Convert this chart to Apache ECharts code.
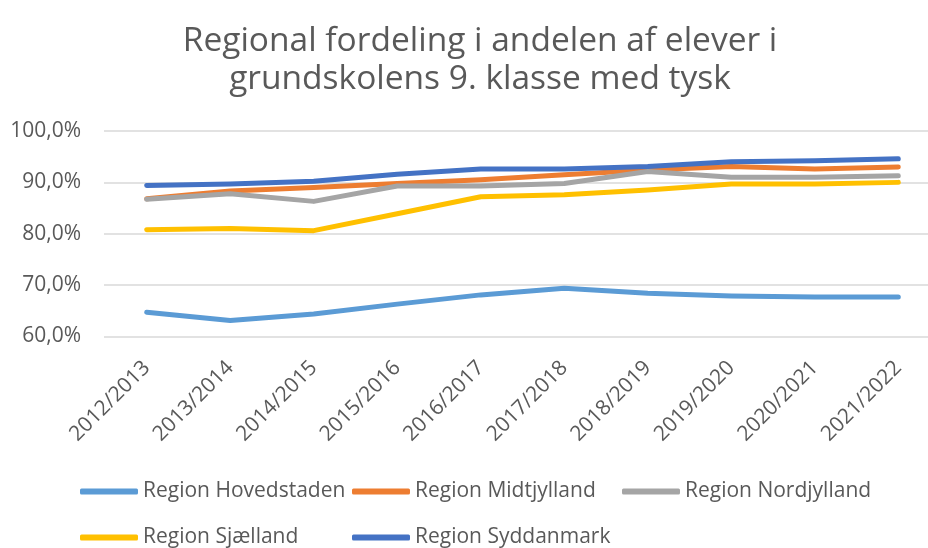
<!DOCTYPE html>
<html><head><meta charset="utf-8">
<script src="https://cdn.jsdelivr.net/npm/echarts@6/dist/echarts.min.js"></script>
<style>html,body{margin:0;padding:0;background:#fff}#c{width:928px;height:548px}</style>
</head><body><div id="c"></div>
<script>
const categories = ['2012/2013','2013/2014','2014/2015','2015/2016','2016/2017','2017/2018','2018/2019','2019/2020','2020/2021','2021/2022'];
const hovedstaden = [64.7, 63.1, 64.4, 66.3, 68.1, 69.4, 68.4, 67.9, 67.7, 67.7];
const midtjylland = [86.8, 88.3, 89.0, 89.8, 90.5, 91.5, 92.4, 93.1, 92.6, 93.0];
const nordjylland = [86.7, 87.8, 86.3, 89.3, 89.3, 89.8, 92.1, 91.0, 91.0, 91.3];
const sjaelland = [80.8, 81.0, 80.6, 83.9, 87.2, 87.6, 88.5, 89.7, 89.7, 90.0];
const syddanmark = [89.4, 89.7, 90.2, 91.6, 92.6, 92.6, 93.1, 94.0, 94.2, 94.6];
const seriesNames = ['Region Hovedstaden','Region Midtjylland','Region Nordjylland','Region Sjælland','Region Syddanmark'];
const colors = ['#5B9BD5','#ED7D31','#A5A5A5','#FFC000','#4472C4'];
const yTicks = {min: 60, max: 100, interval: 10};

const font = 'Open Sans';
const txt = '#595959';
const data = [hovedstaden, midtjylland, nordjylland, sjaelland, syddanmark];
const legendPos = [[75, 476], [347, 476], [617, 476], [75, 522], [347, 522]];
const legends = seriesNames.map((n, i) => ({left: legendPos[i][0], top: legendPos[i][1], data: [n],
  itemWidth: 58, itemHeight: 6, icon: 'roundRect',
  textStyle: {fontFamily: font, fontSize: 21, color: txt}}));
const chart = echarts.init(document.getElementById('c'));
chart.setOption({
  animation: false,
  color: colors,
  title: {text: 'Regional fordeling i andelen af elever i\ngrundskolens 9. klasse med tysk', left: 475, top: 17,
    textAlign: 'center',
    textStyle: {fontFamily: font, fontSize: 33.5, fontWeight: 'normal', color: txt, lineHeight: 38}},
  legend: legends,
  grid: [
    {left: 104, right: 0, top: 131, height: 205.5},
    {left: 146.7, width: 751.6, top: 131, height: 205.5}
  ],
  xAxis: [
    {gridIndex: 0, type: 'category', data: categories, show: false},
    {gridIndex: 1, type: 'category', data: categories, boundaryGap: false,
      axisLine: {show: false}, axisTick: {show: false}, splitLine: {show: false},
      axisLabel: {rotate: 45, fontFamily: font, fontSize: 21, color: txt, margin: 28, interval: 0}}
  ],
  yAxis: [
    {gridIndex: 0, type: 'value', min: yTicks.min, max: yTicks.max, interval: yTicks.interval,
      axisLine: {show: false}, axisTick: {show: false},
      splitLine: {lineStyle: {color: '#d9d9d9', width: 1.5}},
      axisLabel: {fontFamily: font, fontSize: 21, color: txt, margin: 23,
        formatter: v => v.toFixed(1).replace('.', ',') + '%'}},
    {gridIndex: 1, type: 'value', min: yTicks.min, max: yTicks.max, interval: yTicks.interval, show: false,
      splitLine: {show: false}}
  ],
  series: data.map((d, i) => ({name: seriesNames[i], type: 'line', data: d, symbol: 'none',
    xAxisIndex: 1, yAxisIndex: 1,
    lineStyle: {width: 5, cap: 'round', join: 'round', color: colors[i]}, itemStyle: {color: colors[i]}}))
});
</script></body></html>
